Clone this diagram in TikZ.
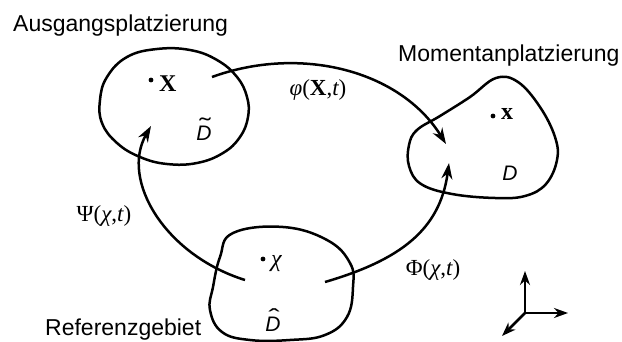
\documentclass[tikz,border=0pt]{standalone}
\usepackage{fontspec}
\setmainfont{Liberation Sans}
\newfontfamily\serif{Liberation Serif}
\usetikzlibrary{arrows.meta}
\newcommand\accD[2]{\ooalign{\itshape D\cr\hidewidth\kern#2\raisebox{#1}{\scalebox{1.6}[1.1]{\upshape\char"02DC}}\hidewidth\cr}}
\newcommand\hatD[2]{\ooalign{\itshape D\cr\hidewidth\kern#2\raisebox{#1}{\scalebox{1.6}[1.1]{\upshape\char"02C6}}\hidewidth\cr}}
\begin{document}
\begin{tikzpicture}[x=1pt,y=-1pt,
  blob/.style={line width=2.5pt,line join=round},
  conn/.style={line width=2.5pt,-{Stealth[length=16pt,width=11pt]}},
  axis/.style={line width=2.5pt,-{Stealth[length=14pt,width=10pt]}},
  title/.style={anchor=base west,inner sep=0pt,font=\fontsize{23}{28}\selectfont},
  maplbl/.style={anchor=base,inner sep=0pt,font=\serif\fontsize{23}{27}\selectfont},
  pt/.style={anchor=base west,inner sep=0pt,font=\serif\fontsize{24}{28}\selectfont},
  dom/.style={anchor=base,inner sep=0pt,font=\fontsize{21}{25}\selectfont}]
\useasboundingbox (0,0) rectangle (622,342);

% blobs
\draw[blob] plot[smooth cycle,tension=0.7] coordinates {(157,49) (190,50) (217,60) (237,77) (247,97) (248,117) (240,137) (223,153) (197,163) (167,164) (140,157) (117,143) (102,123) (100,100) (107,77) (127,57)};
\draw[blob] plot[smooth cycle,tension=0.65] coordinates {(409,145) (417,130) (440,116) (470,97) (496,78) (518,82) (540,107) (555,137) (557,160) (546,184) (525,196) (495,198) (452,194) (421,184) (409,166)};
\draw[blob] plot[smooth cycle,tension=0.7] coordinates {(233,233) (283,227) (327,240) (350,263) (353,287) (347,317) (325,335) (290,340) (250,340) (222,332) (210,310) (213,287) (220,257)};

% titles
\node[title] (tA) at (13,32) {Ausgangsplatzierung};
\node[title] (tM) at (398,62) {Momentanplatzierung};
\node[title] (tR) at (45,335) {Referenzgebiet};

% points
\fill (151,80) circle (2.4pt);
\node[pt] (pX) at (159,92) {\bfseries X};
\fill (493,116) circle (2.4pt);
\node[pt] (px) at (501,120) {\bfseries x};
\fill (263,259) circle (2.4pt);
\node[pt] (pchi) at (271,267) {\itshape χ};

% domain labels
\node[dom] (Dt) at (204,141) {\accD{0.3em}{0.12em}};
\node[dom] (Dm) at (510,181) {\itshape D};
\node[dom] (Dh) at (273,331) {\hatD{0.25em}{0.12em}};

% mapping labels
\node[maplbl] (lphi) at (318,96) {\itshape φ\upshape(\bfseries X\mdseries,\itshape t\upshape)};
\node[maplbl] (lPsi) at (104,222) {Ψ(\itshape χ\upshape,\itshape t\upshape)};
\node[maplbl] (lPhi) at (433,276) {Φ(\itshape χ\upshape,\itshape t\upshape)};

% connectors
\coordinate (phiS) at (212,77);
\coordinate (phiE) at (446,144);
\coordinate (psiS) at (245,280);
\coordinate (psiE) at (151,126);
\coordinate (PhiS) at (325,282);
\coordinate (PhiE) at (449,163);
\draw[conn] (phiS) .. controls (300,45) and (400,70) .. (phiE);
\draw[conn] (psiS) .. controls (165,255) and (120,180) .. (psiE);
\draw[conn] (PhiS) .. controls (400,260) and (440,230) .. (PhiE);

% axes
\coordinate (O) at (525,313);
\coordinate (ax1) at (525,271);
\coordinate (ax2) at (568,313);
\coordinate (ax3) at (502,336);
\draw[axis] (O) -- (ax1);
\draw[axis] (O) -- (ax2);
\draw[axis] (O) -- (ax3);
\end{tikzpicture}
\end{document}
